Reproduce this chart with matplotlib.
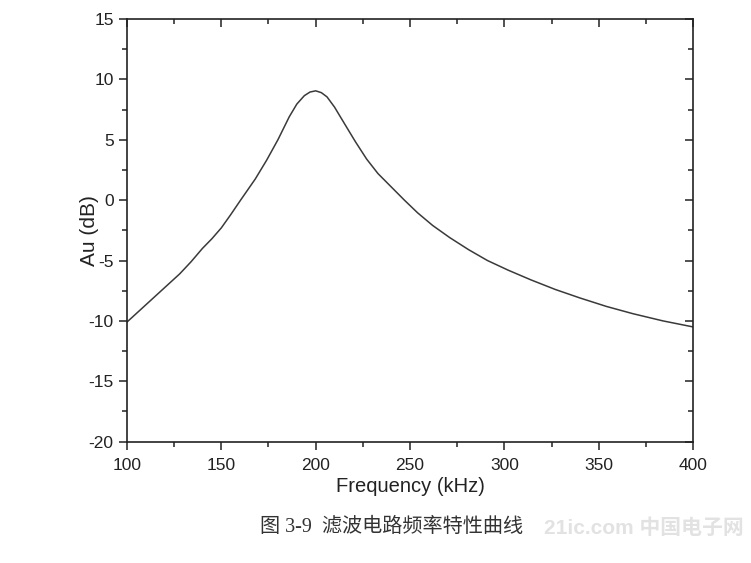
import matplotlib.pyplot as plt
from matplotlib.ticker import MultipleLocator, NullFormatter

# values
freq_khz = [100, 107, 114, 121, 128, 134, 140, 145, 150, 155, 160, 164, 168, 174,
            180, 186, 190, 194, 197, 200, 203, 206, 210, 215, 221, 227, 233, 240,
            247, 254, 262, 271, 281, 291, 302, 314, 327, 340, 354, 368, 384, 400]
gain_db = [-10.1, -9.1, -8.1, -7.1, -6.1, -5.1, -4.0, -3.2, -2.3, -1.2, -0.05, 0.85, 1.75, 3.3,
           5.0, 6.9, 7.95, 8.65, 8.95, 9.05, 8.9, 8.55, 7.7, 6.4, 4.85, 3.4, 2.2, 1.1,
           0.0, -1.05, -2.1, -3.1, -4.1, -5.0, -5.8, -6.6, -7.4, -8.1, -8.8, -9.4, -10.0, -10.5]

x_label = "Frequency (kHz)"
y_label = "Au (dB)"
caption = "图 3-9  滤波电路频率特性曲线"

plt.rcParams['font.family'] = ['Liberation Sans', 'Noto Sans CJK SC', 'DejaVu Sans']
plt.rcParams['axes.unicode_minus'] = False

fig = plt.figure(figsize=(7.51, 5.63), dpi=100)
ax = fig.add_axes([0.169, 0.2155, 0.754, 0.7508])

ax.plot(freq_khz, gain_db, color='#3a3a3a', lw=1.1, solid_joinstyle='round')

ax.set_xlim(100, 400)
ax.set_ylim(-20, 15)
ax.xaxis.set_major_locator(MultipleLocator(50))
ax.xaxis.set_minor_locator(MultipleLocator(25))
ax.yaxis.set_major_locator(MultipleLocator(5))
ax.yaxis.set_minor_locator(MultipleLocator(2.5))
ax.tick_params(which='both', direction='out', top=False, right=False,
               labelsize=12.5, colors='#222222', width=1.1)
ax.tick_params(which='major', length=6)
ax.tick_params(which='minor', length=3.5)
ax.tick_params(axis='x', pad=6)
for s in ax.spines.values():
    s.set_linewidth(1.2)
    s.set_color('#222222')

# inward ticks on the top and right edges
top = ax.secondary_xaxis('top')
top.xaxis.set_major_locator(MultipleLocator(50))
top.xaxis.set_minor_locator(MultipleLocator(25))
top.xaxis.set_major_formatter(NullFormatter())
top.tick_params(which='both', direction='in', width=1.1, colors='#222222')
top.tick_params(which='major', length=6)
top.tick_params(which='minor', length=3.5)
top.spines['top'].set_visible(False)

right = ax.secondary_yaxis('right')
right.yaxis.set_major_locator(MultipleLocator(5))
right.yaxis.set_minor_locator(MultipleLocator(2.5))
right.yaxis.set_major_formatter(NullFormatter())
right.tick_params(which='both', direction='in', width=1.1, colors='#222222')
right.tick_params(which='major', length=6)
right.tick_params(which='minor', length=3.5)
right.spines['right'].set_visible(False)

ax.set_xlabel(x_label, fontsize=14.5, color='#222222', va='center')
ax.set_ylabel(y_label, fontsize=15, color='#222222', va='center')
ax.xaxis.set_label_coords(0.5, -0.107)
ax.yaxis.set_label_coords(-0.066, 0.5)

fig.text(0.522, 0.063, caption, ha='center', va='center', fontsize=14.5,
         color='#333333', family=['Liberation Serif', 'Noto Sans CJK SC'])

# faint watermark
fig.text(0.99, 0.062, "21ic.com 中国电子网", ha='right', va='center', fontsize=15,
         color='#e2e2e2', fontweight='bold')

fig.savefig('out.png', dpi=100)
